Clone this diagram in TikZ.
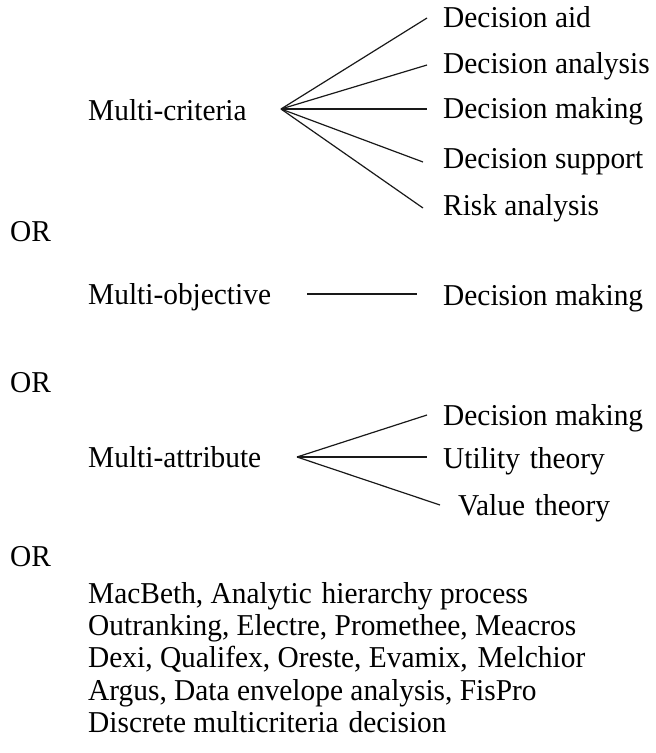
\documentclass[tikz,border=0pt]{standalone}
\usepackage{fontspec}
\setmainfont{Liberation Serif}[FakeStretch=0.97]
\newcommand{\wsp}{\ \hspace{2.5pt}}
\begin{document}
\begin{tikzpicture}[x=1pt,y=-1pt,
  lbl/.style={anchor=base west,inner sep=0pt,font=\fontsize{30.3}{32}\selectfont},
  conn/.style={line width=1.2pt,draw=black!90}]
\useasboundingbox (0,0) rectangle (656,753);
% Multi-criteria
\node[lbl] (mc) at (88,120) {Multi-criteria};
\node[lbl] (c1) at (443,27) {Decision aid};
\node[lbl] (c2) at (443,73) {Decision analysis};
\node[lbl] (c3) at (443,118) {Decision making};
\node[lbl] (c4) at (443,168) {Decision support};
\node[lbl] (c5) at (443,215) {Risk analysis};
\coordinate (hc) at (281,109);
\coordinate (ec1) at (427,18);
\coordinate (ec2) at (427,65);
\coordinate (ec3) at (427,109);
\coordinate (ec4) at (423,162);
\coordinate (ec5) at (423,208);
\foreach \i in {1,...,5} \draw[conn] (hc) -- (ec\i);
% OR
\node[lbl] (or1) at (10,241) {OR};
% Multi-objective
\node[lbl] (mo) at (88,304) {Multi-objective};
\node[lbl] (o1) at (443,305) {Decision making};
\coordinate (ho1) at (307,294);
\coordinate (ho2) at (417,294);
\draw[conn] (ho1) -- (ho2);
% OR
\node[lbl] (or2) at (10,392) {OR};
% Multi-attribute
\node[lbl] (ma) at (88,467) {Multi-attribute};
\node[lbl] (a1) at (443,425) {Decision making};
\node[lbl] (a2) at (443,468) {Utility\wsp theory};
\node[lbl] (a3) at (458,515) {Value\wsp theory};
\coordinate (ha) at (297,457);
\coordinate (ea1) at (427,415);
\coordinate (ea2) at (427,457);
\coordinate (ea3) at (440,505);
\foreach \i in {1,2,3} \draw[conn] (ha) -- (ea\i);
% OR
\node[lbl] (or3) at (10,566) {OR};
% methods
\node[lbl] (m1) at (88,603) {MacBeth, Analytic\wsp hierarchy process};
\node[lbl] (m2) at (88,635) {Outranking, Electre, Promethee, Meacros};
\node[lbl] (m3) at (88,667) {Dexi, Qualifex, Oreste, Evamix,\wsp Melchior};
\node[lbl] (m4) at (88,700) {Argus, Data envelope analysis, FisPro};
\node[lbl] (m5) at (88,732) {Discrete multicriteria\wsp decision};
\end{tikzpicture}
\end{document}
